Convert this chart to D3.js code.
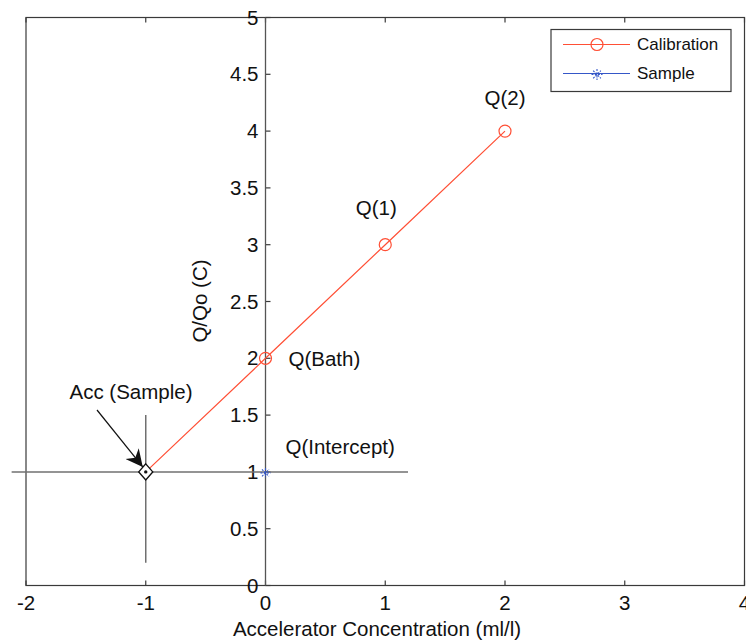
<!DOCTYPE html>
<html>
<head>
<meta charset="utf-8">
<script src="https://cdn.jsdelivr.net/npm/d3@7"></script>
<style>
  html, body { margin: 0; padding: 0; background: #fff; }
  svg { display: block; }
  text { font-family: "Liberation Sans", Arial, Helvetica, sans-serif; fill: #111; }
</style>
</head>
<body>
<svg id="chart" width="746" height="642"></svg>
<script>
// Calibration points (accelerator added vs. normalised charge)
const calibX = [0, 1, 2];
const calibY = [2, 3, 4];
const calibLabels = ["Q(Bath)", "Q(1)", "Q(2)"];

// Extrapolated accelerator content of the sample
const accX = -1;
const accY = 1;

// Sample measurement
const sampleX = [0];
const sampleY = [1];

// Crosshair extents through the extrapolated point
const crossH = [-2.12, 1.19];
const crossV = [0.2, 1.5];

// Axis ticks
const xTicks = [-2, -1, 0, 1, 2, 3, 4];
const yTicks = [0, 0.5, 1, 1.5, 2, 2.5, 3, 3.5, 4, 4.5, 5];

const svg = d3.select("#chart");
const plotLeft = 26, plotRight = 744.5, plotTop = 17.5, plotBottom = 585.5;

const x = d3.scaleLinear().domain([-2, 4]).range([plotLeft, plotRight]);
const y = d3.scaleLinear().domain([0, 5]).range([plotBottom, plotTop]);

const red = "#ff4f35";
const blue = "#3557c8";
const axisCol = "#3a3a3a";
const fs = 20.5;

// Box
svg.append("rect")
  .attr("x", plotLeft).attr("y", plotTop)
  .attr("width", plotRight - plotLeft).attr("height", plotBottom - plotTop)
  .attr("fill", "none").attr("stroke", axisCol).attr("stroke-width", 1.2);

// Bottom and top inward ticks
const tickG = svg.append("g").attr("stroke", axisCol).attr("stroke-width", 1.2);
xTicks.forEach(t => {
  tickG.append("line").attr("x1", x(t)).attr("x2", x(t)).attr("y1", plotBottom).attr("y2", plotBottom - 5);
  tickG.append("line").attr("x1", x(t)).attr("x2", x(t)).attr("y1", plotTop).attr("y2", plotTop + 5);
});

// Vertical axis placed at x = 0
svg.append("line")
  .attr("x1", x(0)).attr("x2", x(0)).attr("y1", plotTop).attr("y2", plotBottom)
  .attr("stroke", "#555").attr("stroke-width", 1.3);
yTicks.forEach(t => {
  tickG.append("line").attr("x1", x(0)).attr("x2", x(0) + 5).attr("y1", y(t)).attr("y2", y(t));
});

// Tick labels
svg.append("g").selectAll("text").data(xTicks).join("text")
  .attr("x", d => x(d)).attr("y", 610)
  .attr("text-anchor", "middle")
  .attr("font-size", fs)
  .text(d => d);

svg.append("g").selectAll("text").data(yTicks).join("text")
  .attr("x", x(0) - 7).attr("y", d => y(d))
  .attr("dy", "0.35em")
  .attr("text-anchor", "end")
  .attr("font-size", fs)
  .text(d => d);

// Axis titles
svg.append("text")
  .attr("x", 377).attr("y", 635.5)
  .attr("text-anchor", "middle").attr("font-size", fs)
  .text("Accelerator Concentration (ml/l)");

svg.append("text")
  .attr("transform", "translate(207,301) rotate(-90)")
  .attr("text-anchor", "middle").attr("font-size", fs)
  .text("Q/Qo (C)");

// Crosshair through the extrapolated point
svg.append("line")
  .attr("x1", x(crossH[0])).attr("x2", x(crossH[1]))
  .attr("y1", y(accY)).attr("y2", y(accY))
  .attr("stroke", "#707070").attr("stroke-width", 1.5);
svg.append("line")
  .attr("x1", x(accX)).attr("x2", x(accX))
  .attr("y1", y(crossV[0])).attr("y2", y(crossV[1]))
  .attr("stroke", "#707070").attr("stroke-width", 1.5);

// Calibration line, extrapolated back to the x-intercept point
const linePts = [[accX, accY]].concat(calibX.map((d, i) => [d, calibY[i]]));
svg.append("path")
  .datum(linePts)
  .attr("d", d3.line().x(d => x(d[0])).y(d => y(d[1])))
  .attr("fill", "none").attr("stroke", red).attr("stroke-width", 1.2);

svg.append("g").selectAll("circle").data(calibX).join("circle")
  .attr("cx", d => x(d)).attr("cy", (d, i) => y(calibY[i]))
  .attr("r", 6)
  .attr("fill", "none").attr("stroke", red).attr("stroke-width", 1.2);

// Sample marker (asterisk)
function asterisk(g, cx, cy, s, col) {
  const a = g.append("g").attr("stroke", col).attr("stroke-width", 1.1).attr("stroke-dasharray", "2,1.2");
  a.append("line").attr("x1", cx - s).attr("x2", cx + s).attr("y1", cy).attr("y2", cy);
  a.append("line").attr("x1", cx).attr("x2", cx).attr("y1", cy - s).attr("y2", cy + s);
  a.append("line").attr("x1", cx - s * 0.7).attr("x2", cx + s * 0.7).attr("y1", cy - s * 0.7).attr("y2", cy + s * 0.7);
  a.append("line").attr("x1", cx - s * 0.7).attr("x2", cx + s * 0.7).attr("y1", cy + s * 0.7).attr("y2", cy - s * 0.7);
}
sampleX.forEach((d, i) => asterisk(svg, x(d), y(sampleY[i]) + 1, 5, blue));

// Extrapolated point: diamond with centre dot
const dx = x(accX), dy = y(accY);
svg.append("path")
  .attr("d", `M${dx},${dy - 8}L${dx + 7},${dy}L${dx},${dy + 8}L${dx - 7},${dy}Z`)
  .attr("fill", "#fff").attr("stroke", "#111").attr("stroke-width", 1.4);
svg.append("circle").attr("cx", dx).attr("cy", dy).attr("r", 1.7).attr("fill", "#111");

// Point labels
const labelPos = [
  { dxp: 23, dyp: 1, anchor: "start" },
  { dxp: -9, dyp: -37, anchor: "middle" },
  { dxp: 0, dyp: -33, anchor: "middle" }
];
calibLabels.forEach((lab, i) => {
  svg.append("text")
    .attr("x", x(calibX[i]) + labelPos[i].dxp)
    .attr("y", y(calibY[i]) + labelPos[i].dyp)
    .attr("dy", "0.35em")
    .attr("text-anchor", labelPos[i].anchor)
    .attr("font-size", fs)
    .text(lab);
});

svg.append("text")
  .attr("x", x(sampleX[0]) + 20).attr("y", y(sampleY[0]) - 25)
  .attr("dy", "0.35em").attr("font-size", fs)
  .text("Q(Intercept)");

svg.append("text")
  .attr("x", 131).attr("y", 392)
  .attr("dy", "0.35em").attr("text-anchor", "middle").attr("font-size", fs)
  .text("Acc (Sample)");

// Arrow pointing at the extrapolated point
svg.append("defs").append("marker")
  .attr("id", "head").attr("viewBox", "0 0 10 10")
  .attr("refX", 10).attr("refY", 5)
  .attr("markerWidth", 21).attr("markerHeight", 17)
  .attr("markerUnits", "userSpaceOnUse")
  .attr("orient", "auto")
  .append("path").attr("d", "M0,0L10,5L0,10L3,5Z").attr("fill", "#111");
svg.append("line")
  .attr("x1", 97).attr("y1", 410)
  .attr("x2", dx - 3).attr("y2", dy - 5)
  .attr("stroke", "#111").attr("stroke-width", 1.2)
  .attr("marker-end", "url(#head)");

// Legend
const lg = svg.append("g");
lg.append("rect")
  .attr("x", 551).attr("y", 29.5).attr("width", 180).attr("height", 62)
  .attr("fill", "#fff").attr("stroke", axisCol).attr("stroke-width", 1.2);
lg.append("line").attr("x1", 563).attr("x2", 630).attr("y1", 44.5).attr("y2", 44.5)
  .attr("stroke", red).attr("stroke-width", 1.2);
lg.append("circle").attr("cx", 597).attr("cy", 44.5).attr("r", 6)
  .attr("fill", "none").attr("stroke", red).attr("stroke-width", 1.2);
lg.append("text").attr("x", 637).attr("y", 44.5).attr("dy", "0.35em")
  .attr("font-size", 17).text("Calibration");
lg.append("line").attr("x1", 563).attr("x2", 630).attr("y1", 73.5).attr("y2", 73.5)
  .attr("stroke", blue).attr("stroke-width", 1.1);
asterisk(lg, 597, 74.5, 5.5, blue);
lg.append("text").attr("x", 637).attr("y", 73.5).attr("dy", "0.35em")
  .attr("font-size", 17).text("Sample");
</script>
</body>
</html>
